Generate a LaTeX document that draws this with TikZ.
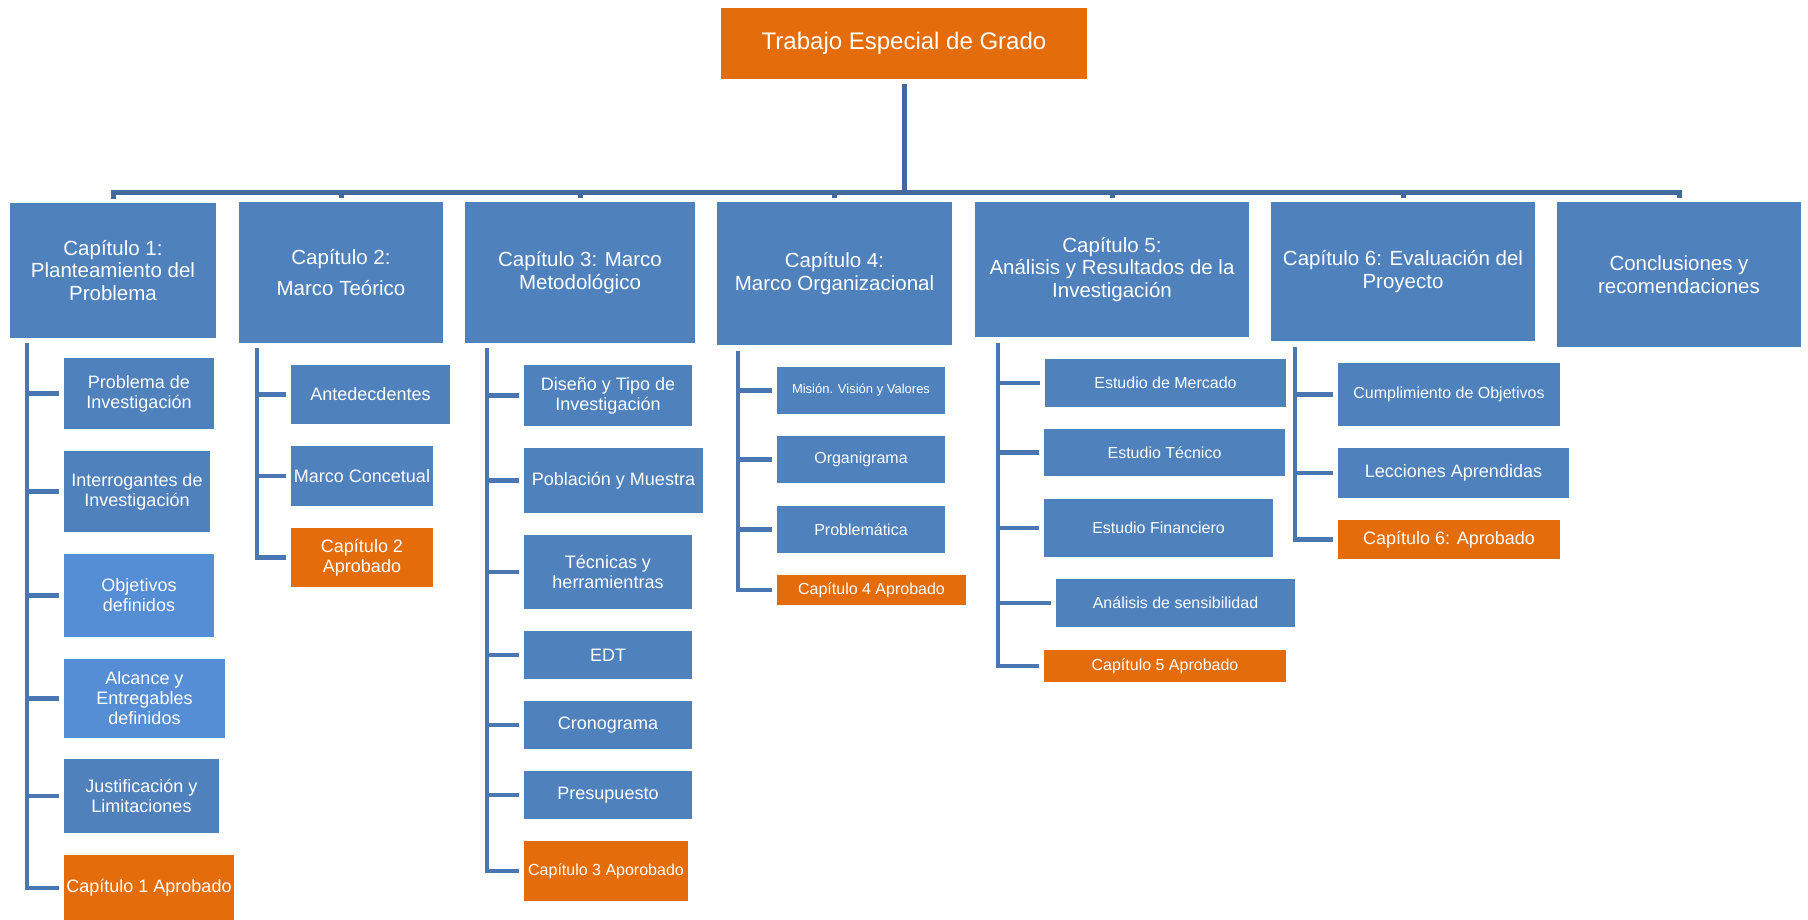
\documentclass[tikz,border=0pt]{standalone}
\usepackage{fontspec}
\setmainfont{Liberation Sans}
\definecolor{boxblue}{HTML}{4F81BD}
\definecolor{lightblue}{HTML}{558ED5}
\definecolor{boxorange}{HTML}{E46C0A}
\definecolor{busblue}{HTML}{41699C}
\definecolor{lineblue}{HTML}{4A77B2}
\newcommand\wbsbox[7]{\node[#1, minimum width={#5-#3}, minimum height={#6-#4}] (#2) at ({(#3+#5)/2},{(#4+#6)/2}) {#7};}
\begin{document}
\begin{tikzpicture}[x=1pt,y=-1pt,
  box/.style={draw=none, inner sep=0pt, align=center, text=white, fill=boxblue},
  orangebox/.style={box, fill=boxorange},
  lightbox/.style={box, fill=lightblue},
  topfont/.style={font=\fontsize{24}{27}\selectfont},
  chapfont/.style={font=\fontsize{20.5}{22.5}\selectfont},
  bigfont/.style={font=\fontsize{18}{20}\selectfont},
  midfont/.style={font=\fontsize{16}{18.5}\selectfont},
  smallfont/.style={font=\fontsize{13}{15}\selectfont},
  busline/.style={draw=busblue, line width=5pt, line join=miter, shorten <=5pt, shorten >=4pt},
  conn/.style={draw=lineblue, line width=4.5pt, line join=miter, shorten >=5pt}]
\useasboundingbox (0,0) rectangle (1808,919);
\fill[white] (0,0) rectangle (1808,919);

% top
\wbsbox{orangebox,topfont}{top}{721}{8}{1087}{79}{Trabajo Especial de Grado}

% chapters
\wbsbox{box,chapfont}{C1}{10}{203}{216}{338}{Capítulo 1:\\Planteamiento del\\Problema}
\wbsbox{box,chapfont}{C2}{239}{202}{443}{343}{Capítulo 2:\\[9pt]Marco Teórico}
\wbsbox{box,chapfont}{C3}{465}{202}{695}{343}{Capítulo 3: Marco\\Metodológico}
\wbsbox{box,chapfont}{C4}{717}{202}{952}{345}{Capítulo 4:\\Marco Organizacional}
\wbsbox{box,chapfont}{C5}{975}{202}{1249}{337}{Capítulo 5:\\Análisis y Resultados de la\\Investigación}
\wbsbox{box,chapfont}{C6}{1271}{202}{1535}{341}{Capítulo 6: Evaluación del\\Proyecto}
\wbsbox{box,chapfont}{C7}{1557}{202}{1801}{347}{Conclusiones y\\recomendaciones}

% bus
\coordinate (bus) at (904,192);
\foreach \c in {C1,C2,C3,C4,C5,C6,C7}
  \draw[busline] (top.south) -- (top.south |- bus) -| (\c.north);

% column 1
\wbsbox{box,bigfont}{a1}{64}{358}{214}{429}{Problema de\\Investigación}
\wbsbox{box,bigfont}{a2}{64}{451}{210}{532}{Interrogantes de\\Investigación}
\wbsbox{lightbox,bigfont}{a3}{64}{554}{214}{637}{Objetivos\\definidos}
\wbsbox{lightbox,bigfont}{a4}{64}{659}{225}{738}{Alcance y\\Entregables\\definidos}
\wbsbox{box,bigfont}{a5}{64}{759}{219}{833}{Justificación y\\Limitaciones}
\wbsbox{orangebox,bigfont}{a6}{64}{855}{234}{921}{Capítulo 1 Aprobado}
\coordinate (v1) at (27,343);
\foreach \n in {a1,a2,a3,a4,a5,a6} \draw[conn] (v1) |- (\n.west);

% column 2
\wbsbox{box,bigfont}{b1}{291}{365}{450}{424}{Antedecdentes}
\wbsbox{box,bigfont}{b2}{291}{446}{433}{506}{Marco Concetual}
\wbsbox{orangebox,bigfont}{b3}{291}{528}{433}{587}{Capítulo 2\\Aprobado}
\coordinate (v2) at (257,348);
\foreach \n in {b1,b2,b3} \draw[conn] (v2) |- (\n.west);

% column 3
\wbsbox{box,bigfont}{c1}{524}{365}{692}{426}{Diseño y Tipo de\\Investigación}
\wbsbox{box,bigfont}{c2}{524}{448}{703}{513}{Población y Muestra}
\wbsbox{box,bigfont}{c3}{524}{535}{692}{609}{Técnicas y\\herramientras}
\wbsbox{box,bigfont}{c4}{524}{631}{692}{679}{EDT}
\wbsbox{box,bigfont}{c5}{524}{701}{692}{749}{Cronograma}
\wbsbox{box,bigfont}{c6}{524}{771}{692}{819}{Presupuesto}
\wbsbox{orangebox,midfont}{c7}{524}{841}{688}{901}{Capítulo 3 Aporobado}
\coordinate (v3) at (487,348);
\foreach \n in {c1,c2,c3,c4,c5,c6,c7} \draw[conn] (v3) |- (\n.west);

% column 4
\wbsbox{box,smallfont}{d1}{777}{367}{945}{414}{Misión. Visión y Valores}
\wbsbox{box,midfont}{d2}{777}{436}{945}{483}{Organigrama}
\wbsbox{box,midfont}{d3}{777}{506}{945}{553}{Problemática}
\wbsbox{orangebox,midfont}{d4}{777}{575}{966}{605}{Capítulo 4 Aprobado}
\coordinate (v4) at (738,351);
\foreach \n in {d1,d2,d3,d4} \draw[conn] (v4) |- (\n.west);

% column 5
\wbsbox{box,midfont}{e1}{1045}{359}{1286}{407}{Estudio de Mercado}
\wbsbox{box,midfont}{e2}{1044}{429}{1285}{476}{Estudio Técnico}
\wbsbox{box,midfont}{e3}{1044}{499}{1273}{557}{Estudio Financiero}
\wbsbox{box,midfont}{e4}{1056}{579}{1295}{627}{Análisis de sensibilidad}
\wbsbox{orangebox,midfont}{e5}{1044}{650}{1286}{682}{Capítulo 5 Aprobado}
\coordinate (v5) at (998,343);
\foreach \n in {e1,e2,e3,e4,e5} \draw[conn] (v5) |- (\n.west);

% column 6
\wbsbox{box,midfont}{f1}{1338}{363}{1560}{426}{Cumplimiento de Objetivos}
\wbsbox{box,bigfont}{f2}{1338}{448}{1569}{498}{Lecciones Aprendidas}
\wbsbox{orangebox,bigfont}{f3}{1338}{520}{1560}{559}{Capítulo 6: Aprobado}
\coordinate (v6) at (1295,347);
\foreach \n in {f1,f2,f3} \draw[conn] (v6) |- (\n.west);
\end{tikzpicture}
\end{document}
